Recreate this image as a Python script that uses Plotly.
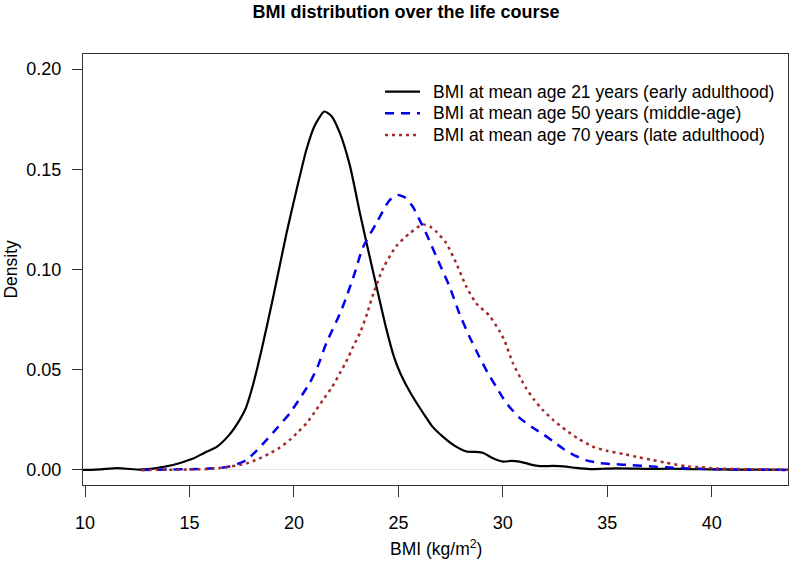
import plotly.graph_objects as go

# ---- data ----
bmi21_x = [9.9, 10.5, 11.0, 11.5, 12.0, 12.6, 13.0, 13.6, 14.2, 14.7, 15.2, 15.7, 16.3, 16.9, 17.4, 17.7,
           18.0, 18.45, 19.0, 19.65, 20.13, 20.6, 21.0, 21.45, 21.8, 22.2, 22.68, 23.16, 23.48, 23.96,
           24.43, 24.8, 25.1, 25.6, 26.19, 26.6, 27.14, 27.7, 28.26, 28.7, 29.06, 29.5, 30.02, 30.4,
           30.8, 31.3, 31.77, 32.4, 32.9, 33.5, 34.16, 34.8, 35.4, 36.2, 37.0, 38.0, 39.0, 40.0, 41.0,
           42.0, 43.65]
bmi21_y = [0.0, 0.0002, 0.0005, 0.0009, 0.0006, 0.0002, 0.0004, 0.0013, 0.0025, 0.004, 0.0058, 0.0085,
           0.0115, 0.0175, 0.025, 0.031, 0.041, 0.060, 0.086, 0.1185, 0.140, 0.160, 0.172, 0.1788,
           0.1765, 0.168, 0.1517, 0.128, 0.113, 0.091, 0.070, 0.056, 0.048, 0.038, 0.0283, 0.022,
           0.0165, 0.012, 0.0092, 0.0090, 0.0085, 0.0060, 0.0042, 0.0045, 0.0042, 0.0028, 0.0019,
           0.0020, 0.0018, 0.0010, 0.0004, 0.0006, 0.0008, 0.0007, 0.0005, 0.0006, 0.0004, 0.0003,
           0.0002, 0.0002, 0.0001]

bmi50_x = [12.7, 14.0, 15.0, 16.13, 16.8, 17.3, 17.73, 18.2, 18.69, 19.2, 19.8, 20.3, 20.75, 21.15,
           21.55, 22.2, 22.5, 22.9, 23.3, 23.94, 24.57, 24.97, 25.3, 25.69, 26.0, 26.33, 26.96, 27.44,
           27.92, 28.39, 28.87, 29.3, 29.67, 30.0, 30.3, 30.8, 31.42, 31.9, 32.38, 32.9, 33.33, 34.0,
           34.6, 35.3, 36.2, 37.0, 37.8, 38.6, 39.4, 40.5, 41.5, 43.65]
bmi50_y = [0.0, 0.0002, 0.0004, 0.0008, 0.0015, 0.003, 0.005, 0.0095, 0.015, 0.021, 0.0283, 0.036,
           0.0433, 0.052, 0.0633, 0.078, 0.086, 0.098, 0.111, 0.123, 0.1345, 0.1371, 0.136, 0.1313,
           0.125, 0.118, 0.103, 0.0917, 0.078, 0.0667, 0.0565, 0.048, 0.0417, 0.036, 0.0317, 0.026,
           0.0212, 0.018, 0.0145, 0.0105, 0.0078, 0.0048, 0.0035, 0.0029, 0.0024, 0.0018, 0.0013,
           0.0009, 0.0006, 0.0003, 0.0002, 0.0]

bmi70_x = [12.7, 14.0, 15.0, 16.13, 17.0, 17.73, 18.3, 18.85, 19.3, 19.8, 20.2, 20.6, 21.0, 21.39,
           21.8, 22.2, 22.5, 22.84, 23.16, 23.5, 23.8, 24.27, 24.9, 25.53, 26.17, 26.5, 26.8, 27.28,
           27.76, 28.24, 28.71, 29.35, 29.83, 30.1, 30.47, 30.94, 31.1, 31.5, 31.9, 32.4, 33.0, 33.6,
           34.29, 35.0, 35.8, 36.5, 37.15, 37.8, 38.75, 39.4, 40.34, 41.5, 42.5, 43.65]
bmi70_y = [0.0, 0.0001, 0.0002, 0.0006, 0.0018, 0.0033, 0.0055, 0.0083, 0.011, 0.015, 0.019, 0.0233,
           0.029, 0.035, 0.041, 0.0483, 0.054, 0.0617, 0.0683, 0.078, 0.088, 0.1007, 0.1117, 0.118,
           0.1225, 0.1215, 0.119, 0.1133, 0.1033, 0.0917, 0.0833, 0.077, 0.0695, 0.064, 0.0535, 0.044,
           0.041, 0.035, 0.030, 0.025, 0.020, 0.0157, 0.0117, 0.0095, 0.0079, 0.0063, 0.005, 0.0036,
           0.0019, 0.0014, 0.0007, 0.0004, 0.0002, 0.0001]

series_names = ["BMI at mean age 21 years (early adulthood)",
                "BMI at mean age 50 years (middle-age)",
                "BMI at mean age 70 years (late adulthood)"]
x_ticks = [10, 15, 20, 25, 30, 35, 40]
y_ticks = [0.00, 0.05, 0.10, 0.15, 0.20]
y_tick_labels = ["0.00", "0.05", "0.10", "0.15", "0.20"]

FONT = "Liberation Sans, Arial, sans-serif"
AX = "#333333"
colors = ["black", "#0000EE", "#A52A2A"]
dashes = ["solid", "9px,7px", "3px,4px"]
widths = [2.2, 2.5, 2.5]

fig = go.Figure()
for xs, ys, nm, c, d, w in zip([bmi21_x, bmi50_x, bmi70_x], [bmi21_y, bmi50_y, bmi70_y],
                               series_names, colors, dashes, widths):
    fig.add_trace(go.Scatter(x=xs, y=ys, mode="lines", name=nm, showlegend=False,
                             line=dict(color=c, width=w, dash=d, shape="spline", smoothing=0.6)))

# manual legend (R style, no box)
shapes = []
annotations = []
leg_rows = [0.9125, 0.8624, 0.8121]
for nm, c, d, w, yy in zip(series_names, colors, dashes, widths, leg_rows):
    shapes.append(dict(type="line", xref="paper", yref="paper", x0=0.4284, x1=0.478, y0=yy, y1=yy,
                       line=dict(color=c, width=w, dash=d)))
    annotations.append(dict(text=nm, xref="paper", yref="paper", x=0.4936, y=yy, xanchor="left",
                            yanchor="middle", showarrow=False, font=dict(size=17.5)))

annotations += [
    dict(text="BMI (kg/m<sup>2</sup>)", xref="paper", yref="paper", x=0.5, y=-0.146,
         xanchor="center", yanchor="middle", showarrow=False, font=dict(size=17.5)),
    dict(text="Density", xref="paper", yref="paper", x=-0.1035, y=0.5, textangle=-90,
         xanchor="center", yanchor="middle", showarrow=False, font=dict(size=17.5)),
]

fig.update_layout(
    width=793, height=570,
    margin=dict(l=83, r=5, t=54, b=85),
    paper_bgcolor="white", plot_bgcolor="white",
    font=dict(family=FONT, color="black", size=17.5),
    title=dict(text="<b>BMI distribution over the life course</b>", x=0.512, xref="container",
               xanchor="center", y=0.98, yref="container", yanchor="middle",
               font=dict(size=18, family=FONT)),
    showlegend=False,
    shapes=shapes,
    annotations=annotations,
    xaxis=dict(range=[9.9, 43.65], tickmode="array", tickvals=x_ticks, ticks="outside",
               ticklen=11, tickcolor=AX, showgrid=False, zeroline=False, showline=True,
               linecolor=AX, linewidth=1, mirror=True, tickfont=dict(size=18),
               ticklabelstandoff=10),
    yaxis=dict(range=[-0.0075, 0.2075], tickmode="array", tickvals=y_ticks, ticktext=y_tick_labels,
               ticks="outside", ticklen=10, tickcolor=AX, showgrid=False, zeroline=True,
               zerolinecolor="#E6E6E6", zerolinewidth=1, showline=True, linecolor=AX,
               linewidth=1, mirror=True, tickfont=dict(size=18), ticklabelstandoff=7),
)

fig.write_html("out.html", config={"displayModeBar": False},
               post_script="document.body.style.margin='0';document.body.style.overflow='hidden';")
